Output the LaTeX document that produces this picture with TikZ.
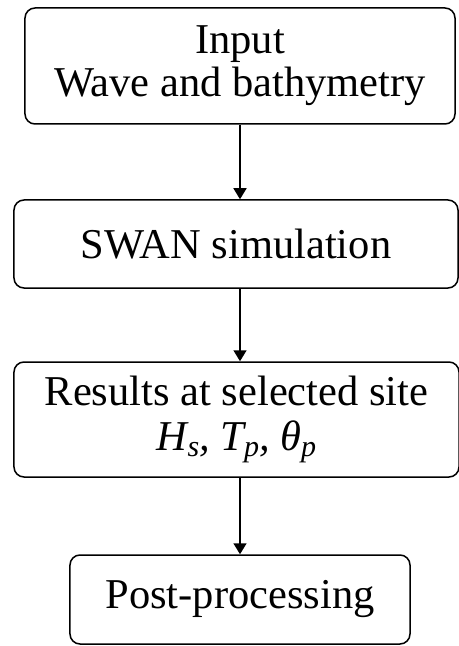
\documentclass[tikz,border=0pt]{standalone}
\usepackage{fontspec}
\setmainfont{Liberation Serif}
\usetikzlibrary{arrows.meta, positioning}
\tikzset{
  stepbox/.style={
    rectangle, rounded corners=10bp,
    draw=black, line width=1.5bp,
    align=center, inner sep=0pt,
    font=\fontsize{42.5bp}{43bp}\selectfont
  },
  arrow/.style={-{Triangle[length=11bp, width=13bp]}, line width=1.6bp, black}
}
\newcommand{\lowsub}[1]{\raisebox{-6bp}{\fontsize{30bp}{30bp}\selectfont #1}}

\begin{document}
\begin{tikzpicture}[x=1bp, y=-1bp]
  \useasboundingbox (0,0) rectangle (459,646);

  % Process boxes
  \node[stepbox, minimum width=430bp, minimum height=116bp] (input) at (240,66)
    {Input\\Wave and bathymetry};
  \node[stepbox, minimum width=444bp, minimum height=88bp] (swan) at (236,244)
    {SWAN simulation};
  \node[stepbox, minimum width=445bp, minimum height=115bp] (results) at (236.5,419.5)
    {Results at selected site\\[2bp]\textit{H\lowsub{s}, T\lowsub{p}, θ\lowsub{p}}};
  \node[stepbox, minimum width=340bp, minimum height=89bp] (post) at (240,599.5)
    {Post-processing};

  % Flow arrows
  \draw[arrow] (input.south) -- (input.south |- swan.north);
  \draw[arrow] (input.south |- swan.south) -- (input.south |- results.north);
  \draw[arrow] (input.south |- results.south) -- (post.north);
\end{tikzpicture}
\end{document}
